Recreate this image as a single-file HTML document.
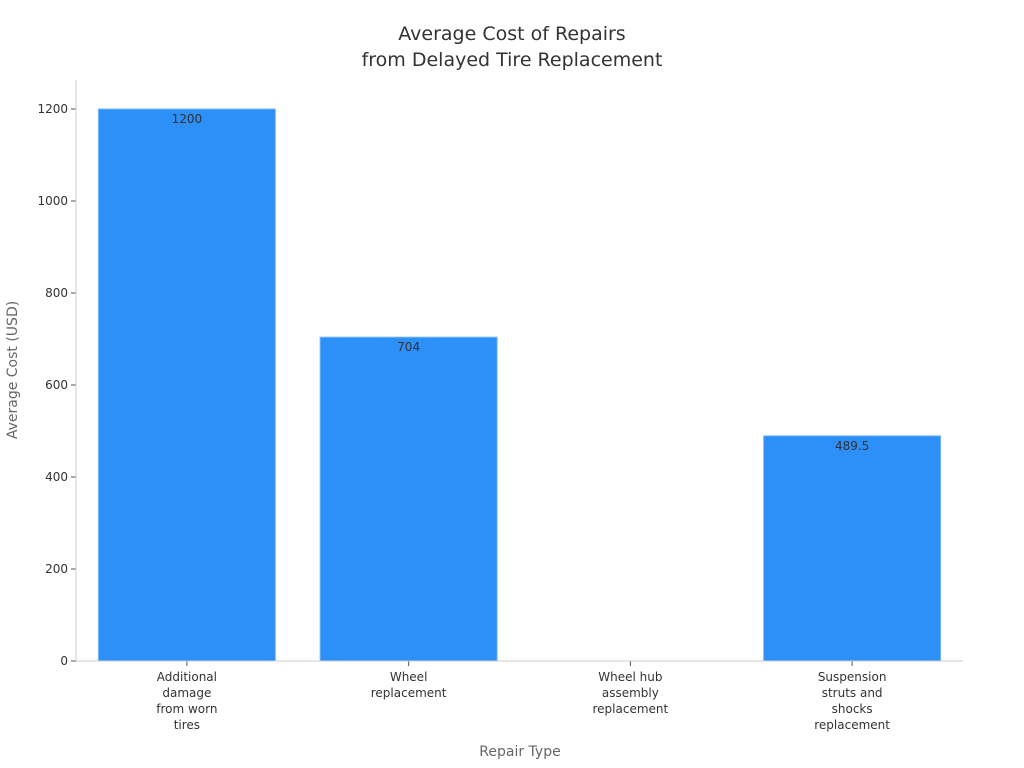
<!DOCTYPE html>
<html><head><meta charset="utf-8"><style>
html,body{margin:0;padding:0;background:#fff;}
svg{display:block;font-family:"DejaVu Sans","Liberation Sans",sans-serif;}
</style></head><body>
<svg id="chart" width="1024" height="768" viewBox="0 0 1024 768">
<text x="512" y="40" text-anchor="middle" font-size="19" fill="#333">Average Cost of Repairs</text>
<text x="512" y="66" text-anchor="middle" font-size="19" fill="#333">from Delayed Tire Replacement</text>
<g id="plot"></g>
<text x="520" y="756" text-anchor="middle" font-size="14" fill="#666">Repair Type</text>
<text transform="translate(17,370) rotate(-90)" text-anchor="middle" font-size="14" fill="#666">Average Cost (USD)</text>
</svg>
<script>
const categories = [["Additional","damage","from worn","tires"],["Wheel","replacement"],["Wheel hub","assembly","replacement"],["Suspension","struts and","shocks","replacement"]];
const values = [1200, 704, null, 489.5];
const valueLabels = ["1200","704","","489.5"];
const yTicks = [0,200,400,600,800,1000,1200];

const NS="http://www.w3.org/2000/svg";
const g=document.getElementById('plot');
const x0=76,x1=963,yBase=661,yTopPx=109,yMax=1200,plotTop=80;
const y=v=>yBase-(v/yMax)*(yBase-yTopPx);
const band=(x1-x0)/categories.length;
const bx=i=>x0+band*i+band/2;
const bw=177;
function mk(t,a,txt){const e=document.createElementNS(NS,t);for(const k in a)e.setAttribute(k,a[k]);if(txt!=null)e.textContent=txt;g.appendChild(e);return e;}

yTicks.forEach(v=>{
 const l=mk('line',{x1:x0-5,x2:x0,y1:y(v),y2:y(v),stroke:'#555'});
 
 
 const t=mk('text',{x:x0-8,y:y(v)+4,'text-anchor':'end','font-size':12,fill:'#333'},String(v));
 
 
});
values.forEach((v,i)=>{
 const cx=bx(i);
 if(v!=null){
  const r=mk('rect',{x:cx-bw/2,y:y(v),width:bw,height:yBase-y(v),fill:'#2d8ff8',stroke:'#7ab8fb','stroke-width':1});
  
  
  const t=mk('text',{x:cx,y:y(v)+14,'text-anchor':'middle','font-size':12,fill:'#333'},valueLabels[i]);
  
  
 }
 const tk=mk('line',{x1:cx,x2:cx,y1:yBase,y2:yBase+5,stroke:'#555'});
 
 
 categories[i].forEach((ln,j)=>{
  const t=mk('text',{x:cx,y:yBase+20+j*16,'text-anchor':'middle','font-size':12,fill:'#333'},ln);
  
  
 });
});
const ya=mk('line',{x1:x0,x2:x0,y1:plotTop,y2:yBase,stroke:'#ccc'});


const xa=mk('line',{x1:x0,x2:x1,y1:yBase,y2:yBase,stroke:'#ccc'});


</script>
</body></html>
